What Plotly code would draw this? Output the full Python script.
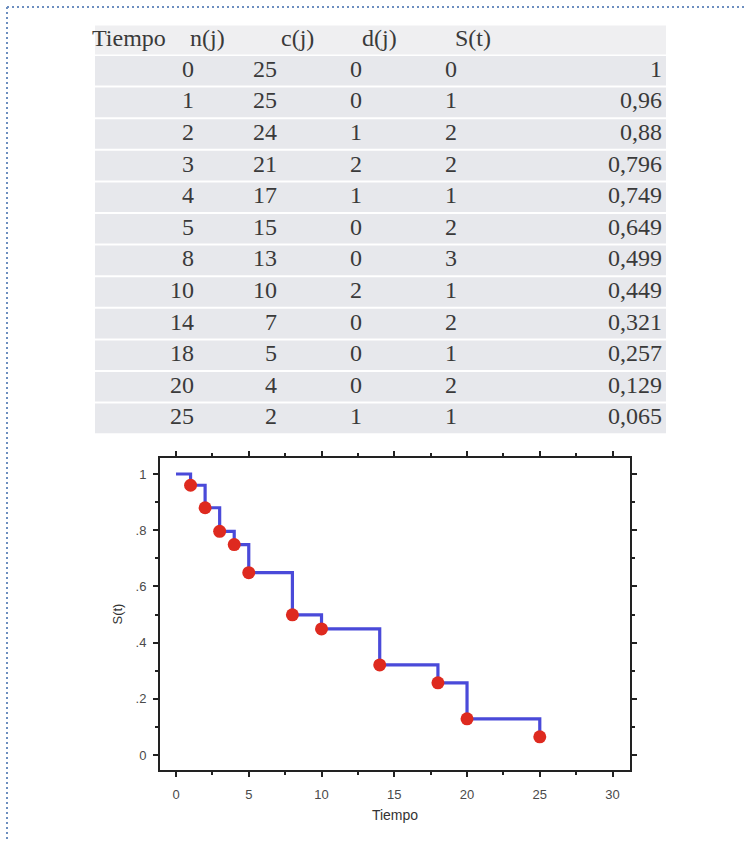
import plotly.graph_objects as go

# Kaplan-Meier life table
tiempo = [0, 1, 2, 3, 4, 5, 8, 10, 14, 18, 20, 25]
n_j = [25, 25, 24, 21, 17, 15, 13, 10, 7, 5, 4, 2]
c_j = [0, 0, 1, 2, 1, 0, 0, 2, 0, 0, 0, 1]
d_j = [0, 1, 2, 2, 1, 2, 3, 1, 2, 1, 2, 1]
s_t = [1, 0.96, 0.88, 0.796, 0.749, 0.649, 0.499, 0.449, 0.321, 0.257, 0.129, 0.065]

headers = ["Tiempo", "n(j)", "c(j)", "d(j)", "S(t)"]
x_ticks = [0, 5, 10, 15, 20, 25, 30]
y_ticks = [0, 0.2, 0.4, 0.6, 0.8, 1]
y_ticktext = ["0", ".2", ".4", ".6", ".8", "1"]

W, H = 744, 842


def px_x(p):
    return p / W


def px_y(p):
    return 1 - p / H


def fmt_dec(v):
    return f"{v:g}".replace(".", ",")


# table geometry (pixel units on the table axes)
TABLE_LEFT, TABLE_RIGHT = 95, 666
HEADER_TOP, HEADER_H = 25, 30
ROW_H = 31.6
BODY_TOP = HEADER_TOP + HEADER_H
header_anchor = [92, 190, 281, 362, 455]   # header text starts here
cell_anchor = [194, 277, 362, 457, 662]    # cell text is right-aligned here

serif = dict(family="Liberation Serif", size=24, color="#3a3a3a")
row_fill = "#e7e8ec"
header_fill = "#efeff1"

row_center = [BODY_TOP + ROW_H * (i + 0.5) for i in range(len(tiempo))]
header_center = HEADER_TOP + HEADER_H / 2

fig = go.Figure()

tbl_axes = dict(xaxis="x2", yaxis="y2", hoverinfo="skip", showlegend=False)

# row backgrounds, separated by thin white gaps
fig.add_trace(go.Bar(
    orientation="h", y=[header_center], x=[TABLE_RIGHT - TABLE_LEFT], base=TABLE_LEFT,
    width=HEADER_H - 1, marker=dict(color=header_fill, line=dict(width=0)), **tbl_axes,
))
fig.add_trace(go.Bar(
    orientation="h", y=row_center, x=[TABLE_RIGHT - TABLE_LEFT] * len(row_center), base=TABLE_LEFT,
    width=ROW_H - 2, marker=dict(color=row_fill, line=dict(width=0)), **tbl_axes,
))

# header labels
for name, ax in zip(headers, header_anchor):
    fig.add_trace(go.Scatter(
        x=[ax], y=[header_center], text=[name], mode="text",
        textposition="middle right", textfont=serif, **tbl_axes,
    ))

# body cells
columns = [
    [str(v) for v in tiempo],
    [str(v) for v in n_j],
    [str(v) for v in c_j],
    [str(v) for v in d_j],
    [fmt_dec(v) for v in s_t],
]
for col, ax in zip(columns, cell_anchor):
    fig.add_trace(go.Scatter(
        x=[ax] * len(col), y=row_center, text=col, mode="text",
        textposition="middle left", textfont=serif, **tbl_axes,
    ))

# survival step curve
fig.add_trace(go.Scatter(
    x=tiempo, y=s_t, mode="lines", line=dict(shape="hv", color="#4a4ad9", width=3.2),
    hoverinfo="skip", showlegend=False,
))
fig.add_trace(go.Scatter(
    x=tiempo[1:], y=s_t[1:], mode="markers", showlegend=False,
    marker=dict(color="#de2a1f", size=13, line=dict(width=0)),
))

axis_common = dict(
    showline=True, linecolor="#222222", linewidth=2, mirror="allticks",
    ticks="outside", ticklen=5, tickwidth=1.5, tickcolor="#222222",
    showgrid=False, zeroline=False,
    tickfont=dict(family="Liberation Sans", size=13, color="#4a4a4a"),
)

hidden = dict(visible=False, showgrid=False, zeroline=False, fixedrange=True)

fig.update_layout(
    width=W, height=H, margin=dict(l=0, r=0, t=0, b=0),
    paper_bgcolor="white", plot_bgcolor="rgba(0,0,0,0)", showlegend=False,
    xaxis=dict(
        domain=[px_x(160), px_x(630)], range=[-1.1, 31.2],
        tickmode="array", tickvals=x_ticks, ticklabelstandoff=6,
        minor=dict(dtick=2.5, tick0=0, ticks="outside", ticklen=3, tickcolor="#222222", showgrid=False),
        title=dict(text="Tiempo", font=dict(family="Liberation Sans", size=14, color="#333333"), standoff=10),
        **axis_common,
    ),
    yaxis=dict(
        domain=[px_y(770), px_y(458)], range=[-0.053, 1.057],
        tickmode="array", tickvals=y_ticks, ticktext=y_ticktext, ticklabelstandoff=4,
        minor=dict(dtick=0.1, tick0=0, ticks="outside", ticklen=3, tickcolor="#222222", showgrid=False),
        title=dict(text="S(t)", font=dict(family="Liberation Sans", size=13, color="#333333"), standoff=10),
        **axis_common,
    ),
    xaxis2=dict(domain=[0, 1], range=[0, W], anchor="y2", **hidden),
    yaxis2=dict(domain=[px_y(445), 1], range=[445, 0], anchor="x2", **hidden),
    shapes=[
        dict(type="line", xref="paper", yref="paper", x0=px_x(7), y0=px_y(7), x1=1, y1=px_y(7),
             line=dict(color="#6d8fc0", width=2, dash="2px,3px")),
        dict(type="line", xref="paper", yref="paper", x0=px_x(7), y0=px_y(7), x1=px_x(7), y1=0,
             line=dict(color="#6d8fc0", width=2, dash="2px,3px")),
    ],
)

fig.write_html("out.html")
